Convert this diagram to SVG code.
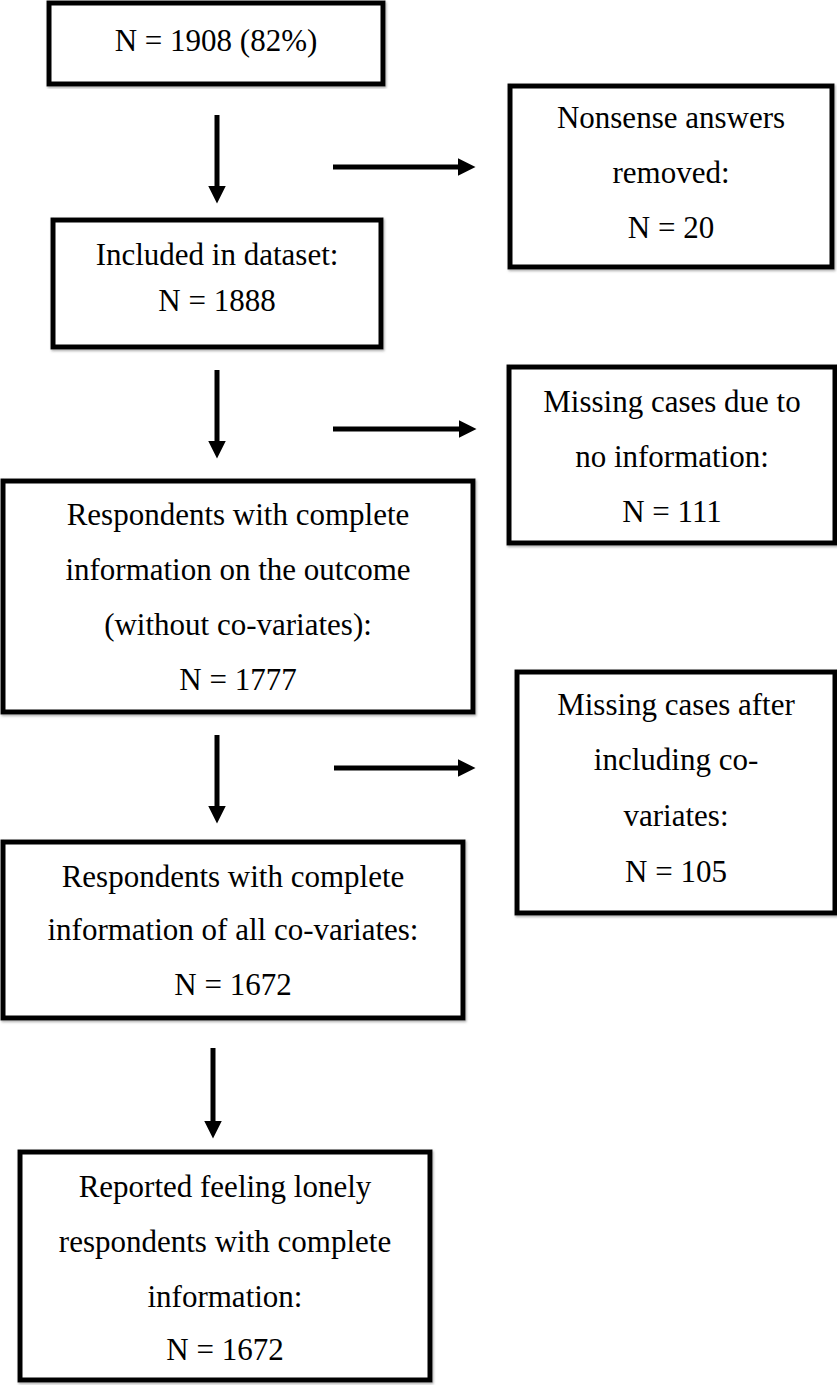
<svg xmlns="http://www.w3.org/2000/svg" width="837" height="1385" viewBox="0 0 837 1385">
<style>
  .box { fill: #ffffff; stroke: #000000; stroke-width: 5; filter: url(#sh); }
  .t { font-family: "Liberation Serif", "Times New Roman", serif; font-size: 31px; fill: #000000; text-anchor: middle; }
  .conn { stroke: #000000; stroke-width: 5; fill: none; marker-end: url(#ah); }
</style>
<defs>
  <filter id="sh" x="-5%" y="-5%" width="110%" height="110%">
    <feDropShadow dx="1" dy="1.5" stdDeviation="1" flood-color="#777777" flood-opacity="0.6"/>
  </filter>
  <marker id="ah" markerUnits="userSpaceOnUse" markerWidth="18" markerHeight="18" viewBox="0 0 16 16" refX="4" refY="8" orient="auto">
    <path d="M0,0 L16,8 L0,16 z" fill="#000000"/>
  </marker>
</defs>
<rect width="837" height="1385" fill="#ffffff"/>

<g id="connectors">
  <line class="conn" x1="217" y1="115" x2="217" y2="190"/>
  <line class="conn" x1="333" y1="167" x2="462" y2="167"/>
  <line class="conn" x1="217" y1="370" x2="217" y2="445"/>
  <line class="conn" x1="333" y1="429" x2="463" y2="429"/>
  <line class="conn" x1="217" y1="735" x2="217" y2="810"/>
  <line class="conn" x1="334" y1="768" x2="462" y2="768"/>
  <line class="conn" x1="213" y1="1048" x2="213" y2="1125"/>
</g>

<g id="n1">
  <rect class="box" x="49" y="3" width="334" height="81"/>
  <text class="t" x="216" y="51">N = 1908 (82%)</text>
</g>
<g id="n2">
  <rect class="box" x="53" y="220" width="328" height="127"/>
  <text class="t" x="217" y="265">Included in dataset:</text>
  <text class="t" x="217" y="311">N = 1888</text>
</g>
<g id="n3">
  <rect class="box" x="510" y="86" width="322" height="181"/>
  <text class="t" x="671" y="128">Nonsense answers</text>
  <text class="t" x="671" y="183">removed:</text>
  <text class="t" x="671" y="238">N = 20</text>
</g>
<g id="n4">
  <rect class="box" x="509" y="367" width="326" height="176"/>
  <text class="t" x="672" y="412">Missing cases due to</text>
  <text class="t" x="672" y="467">no information:</text>
  <text class="t" x="672" y="522">N = 111</text>
</g>
<g id="n5">
  <rect class="box" x="3" y="481" width="470" height="231"/>
  <text class="t" x="238" y="525">Respondents with complete</text>
  <text class="t" x="238" y="580">information on the outcome</text>
  <text class="t" x="238" y="635">(without co-variates):</text>
  <text class="t" x="238" y="690">N = 1777</text>
</g>
<g id="n6">
  <rect class="box" x="517" y="672" width="318" height="241"/>
  <text class="t" x="676" y="715">Missing cases after</text>
  <text class="t" x="676" y="770">including co-</text>
  <text class="t" x="676" y="826">variates:</text>
  <text class="t" x="676" y="882">N = 105</text>
</g>
<g id="n7">
  <rect class="box" x="3" y="842" width="460" height="176"/>
  <text class="t" x="233" y="887">Respondents with complete</text>
  <text class="t" x="233" y="940">information of all co-variates:</text>
  <text class="t" x="233" y="995">N = 1672</text>
</g>
<g id="n8">
  <rect class="box" x="20" y="1152" width="410" height="228"/>
  <text class="t" x="225" y="1197">Reported feeling lonely</text>
  <text class="t" x="225" y="1252">respondents with complete</text>
  <text class="t" x="225" y="1307">information:</text>
  <text class="t" x="225" y="1360">N = 1672</text>
</g>
</svg>
